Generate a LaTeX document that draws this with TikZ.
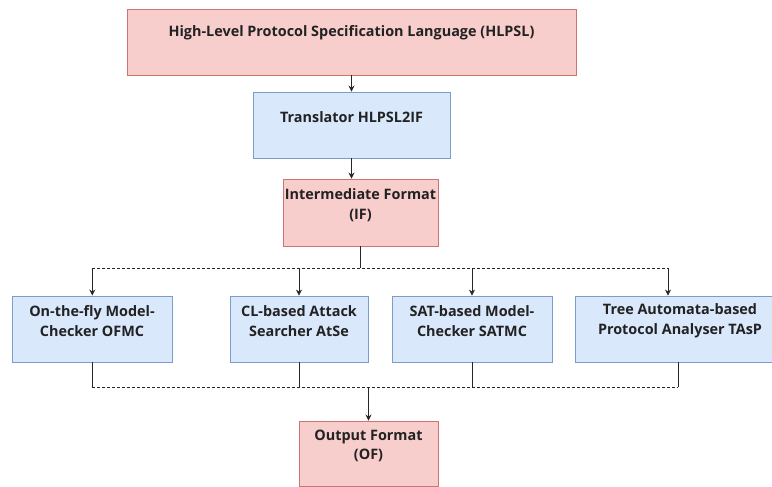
\documentclass[tikz,border=0pt]{standalone}
\usepackage{fontspec}
\setmainfont{Open Sans}
\usetikzlibrary{arrows.meta}
\definecolor{redfill}{HTML}{F8CECC}
\definecolor{redline}{HTML}{CF7370}
\definecolor{bluefill}{HTML}{DAE8FC}
\definecolor{blueline}{HTML}{7C9CCB}
\definecolor{txt}{HTML}{222222}
\tikzset{
  redbox/.style={draw=redline, fill=redfill, line width=0.9pt, inner sep=0pt},
  bluebox/.style={draw=blueline, fill=bluefill, line width=0.9pt, inner sep=0pt},
  lbl/.style={inner sep=0pt, align=center, text=txt, font=\fontsize{14.4}{19.7}\selectfont\bfseries},
  conn/.style={draw=black!85, line width=0.8pt},
  arr/.style={conn, -{Stealth[length=6pt,width=6pt]}},
  dconn/.style={conn, dash pattern=on 3pt off 2pt}
}
\begin{document}
\begin{tikzpicture}[x=1pt,y=-1pt]
\useasboundingbox (0,0) rectangle (772,487);
% boxes
\node[redbox, minimum width=449pt, minimum height=66pt] (hl) at (351.5,42) {};
\node[bluebox, minimum width=197pt, minimum height=66pt] (tr) at (351.5,125) {};
\node[redbox, minimum width=155pt, minimum height=67pt] (if) at (360.5,212.5) {};
\node[bluebox, minimum width=160pt, minimum height=66pt] (b1) at (92.3,329) {};
\node[bluebox, minimum width=138pt, minimum height=66pt] (b2) at (299,329) {};
\node[bluebox, minimum width=160pt, minimum height=66pt] (b3) at (472,329) {};
\node[bluebox, minimum width=210pt, minimum height=66pt] (b4) at (680,329) {};
\node[redbox, minimum width=139pt, minimum height=65pt] (of) at (368.5,453.5) {};
% texts
\node[lbl] (hlt) at (351.5,33) {High-Level Protocol Specification Language (HLPSL)};
\node[lbl] (trt) at (351.5,117) {Translator HLPSL2IF};
\node[lbl] (ift) at (360.5,205) {Intermediate Format\\(IF)};
\node[lbl] (b1t) at (92,321) {On-the-fly Model-\\Checker OFMC};
\node[lbl] (b2t) at (299,321) {CL-based Attack\\Searcher AtSe};
\node[lbl] (b3t) at (472,321) {SAT-based Model-\\Checker SATMC};
\node[lbl] (b4t) at (680,321) {Tree Automata-based\\Protocol Analyser TAsP};
\node[lbl] (oft) at (368.5,446) {Output Format\\(OF)};
% junction coordinates
\coordinate (jt) at (360.5,268);
\coordinate (jtl) at (92.3,268);
\coordinate (jtr) at (668,268);
\coordinate (jb) at (368.5,387);
\coordinate (jbl) at (92.3,387);
\coordinate (jbr) at (678,387);
% connectors
\draw[arr] (hl.south) -- (tr.north);
\draw[arr] (tr.south) -- (tr.south |- if.north);
\draw[conn] (if.south) -- (jt);
\draw[dconn] (jtl) -- (jtr);
\draw[arr] (jtl) -- (b1.north);
\draw[arr] (b2.north |- jt) -- (b2.north);
\draw[arr] (b3.north |- jt) -- (b3.north);
\draw[arr] (jtr) -- (jtr |- b4.north);
\draw[conn] (b1.south) -- (jbl);
\draw[conn] (b2.south) -- (b2.south |- jb);
\draw[conn] (b3.south) -- (b3.south |- jb);
\draw[conn] (jbr |- b4.south) -- (jbr);
\draw[dconn] (jbl) -- (jbr);
\draw[arr] (jb) -- (of.north);
\end{tikzpicture}
\end{document}
